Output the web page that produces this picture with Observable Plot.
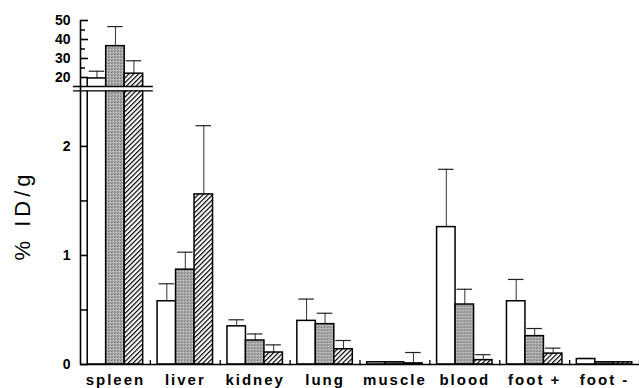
<!DOCTYPE html>
<html>
<head>
<meta charset="utf-8">
<script src="https://cdn.jsdelivr.net/npm/d3@7"></script>
<script src="https://cdn.jsdelivr.net/npm/@observablehq/plot@0.6"></script>
<style>
  html, body { margin: 0; padding: 0; background: white; }
  g[aria-label="fx-axis tick label"] text { letter-spacing: 2px; }
  g[aria-label="text"] text { letter-spacing: 4px; }
</style>
</head>
<body>
<div id="chart"></div>
<script>
const organs = ["spleen", "liver", "kidney", "lung", "muscle", "blood", "foot +", "foot -"];
const seriesNames = ["group 1", "group 2", "group 3"];
// bar heights (% ID/g)
const mean1 = [19.5, 0.58, 0.35, 0.40, 0.02, 1.26, 0.58, 0.05];
const mean2 = [36.5, 0.87, 0.22, 0.37, 0.02, 0.55, 0.26, 0.02];
const mean3 = [22.0, 1.56, 0.11, 0.14, 0.01, 0.04, 0.10, 0.02];
// top of upper error bars
const upper1 = [23.3, 0.74, 0.41, 0.60, 0.025, 1.79, 0.78, 0.055];
const upper2 = [46.8, 1.03, 0.28, 0.47, 0.025, 0.69, 0.33, 0.025];
const upper3 = [28.8, 2.19, 0.18, 0.22, 0.11, 0.09, 0.15, 0.025];
// axis
const yTicksMajor = [0, 1, 2, 20, 30, 40, 50];
const yTicksMinorLow = [0.5, 1.5];
const yTicksMinorHigh = [25, 35, 45];
const yBreak = [2.51, 15.26];
const yMax = 50;

const means = [mean1, mean2, mean3];
const uppers = [upper1, upper2, upper3];
const rows = organs.flatMap((organ, i) =>
  seriesNames.map((series, k) => ({organ, series, value: means[k][i], upper: uppers[k][i]}))
);

const W = 639, H = 388, mT = 20, mB = 24, mL = 80;
const facetW = (W - mL) / organs.length;
const po = 0.39;
const step = facetW / (seriesNames.length + 2 * po);
const leftPad = po * step;
const halfBand = step / 2;
const sp = organs[0];

const plot = Plot.plot({
  width: W,
  height: H,
  marginLeft: mL,
  marginRight: 0,
  marginTop: mT,
  marginBottom: mB,
  style: {fontFamily: "'Liberation Sans', Arial, sans-serif", background: "white", color: "black", overflow: "visible"},
  fx: {domain: organs, padding: 0, round: false, label: null},
  x: {domain: seriesNames, axis: null, paddingInner: 0, paddingOuter: po, round: false},
  y: {type: "linear", domain: [0, yBreak[0], yBreak[1], yMax], range: [H - mB, 90.3, 86, mT]},
  color: {domain: seriesNames, range: ["white", "url(#stipple)", "url(#hatch)"]},
  marks: [
    Plot.ruleX(rows, {fx: "organ", x: "series", y1: "value", y2: "upper", stroke: "#333", strokeWidth: 1}),
    Plot.tickY(rows, {fx: "organ", x: "series", y: "upper", stroke: "#222", strokeWidth: 1.2, insetLeft: 1.5, insetRight: 1.5}),
    Plot.barY(rows, {fx: "organ", x: "series", y: "value", fill: "series", stroke: "black", strokeWidth: 1.5}),
    // axis break
    Plot.rect([sp], {fx: d => d, y1: () => yBreak[0], y2: () => yBreak[1], fill: "white", insetLeft: -7, insetRight: -3}),
    Plot.ruleY(yBreak, {fx: () => sp, stroke: "black", strokeWidth: 1.3, insetLeft: -7, insetRight: -3}),
    // x axis line and boundary ticks
    Plot.frame({anchor: "bottom", strokeWidth: 1.5}),
    Plot.ruleX(organs, {fx: d => d, x: () => seriesNames[2], dx: halfBand + leftPad, y1: () => 0, y2: () => 0, insetTop: -4, strokeWidth: 1.3}),
    // y axis line and inward ticks
    Plot.ruleX([sp], {fx: d => d, x: () => seriesNames[0], dx: -(halfBand + leftPad), y1: () => 0, y2: () => yMax, stroke: "black", strokeWidth: 1.6}),
    Plot.tickY(yTicksMajor, {fx: () => sp, x: () => seriesNames[0], y: d => d, dx: -leftPad, insetRight: step - 8, stroke: "black", strokeWidth: 1.6}),
    Plot.tickY(yTicksMinorLow, {fx: () => sp, x: () => seriesNames[0], y: d => d, dx: -leftPad, insetRight: step - 7, strokeWidth: 1.5}),
    Plot.tickY(yTicksMinorHigh, {fx: () => sp, x: () => seriesNames[0], y: d => d, dx: -leftPad, insetRight: step - 5, strokeWidth: 1.5}),
    Plot.axisY({ticks: yTicksMajor, tickSize: 0, tickPadding: 10, fontSize: 14, fontWeight: "bold", label: null}),
    Plot.axisFx({anchor: "bottom", tickSize: 0, tickPadding: 10, fontSize: 15, fontWeight: "bold", label: null}),
    Plot.text(["% ID/g"], {fx: () => sp, frameAnchor: "left", rotate: -90, dx: -58, dy: 68, fontSize: 22})
  ]
});

const defs = d3.select(plot).insert("defs", ":first-child");
const st = defs.append("pattern").attr("id", "stipple").attr("width", 3).attr("height", 3).attr("patternUnits", "userSpaceOnUse");
st.append("rect").attr("width", 3).attr("height", 3).attr("fill", "#a8a8a8");
st.append("rect").attr("width", 1).attr("height", 1).attr("fill", "#777");
st.append("rect").attr("x", 2).attr("y", 1).attr("width", 1).attr("height", 1).attr("fill", "#d2d2d2");
st.append("rect").attr("x", 1).attr("y", 2).attr("width", 1).attr("height", 1).attr("fill", "#8c8c8c");
const ha = defs.append("pattern").attr("id", "hatch").attr("width", 3.4).attr("height", 3.4)
  .attr("patternUnits", "userSpaceOnUse").attr("patternTransform", "rotate(45)");
ha.append("rect").attr("width", 3.4).attr("height", 3.4).attr("fill", "white");
ha.append("line").attr("x1", 0.6).attr("y1", 0).attr("x2", 0.6).attr("y2", 3.4).attr("stroke", "black").attr("stroke-width", 1.2);

document.getElementById("chart").append(plot);
</script>
</body>
</html>
